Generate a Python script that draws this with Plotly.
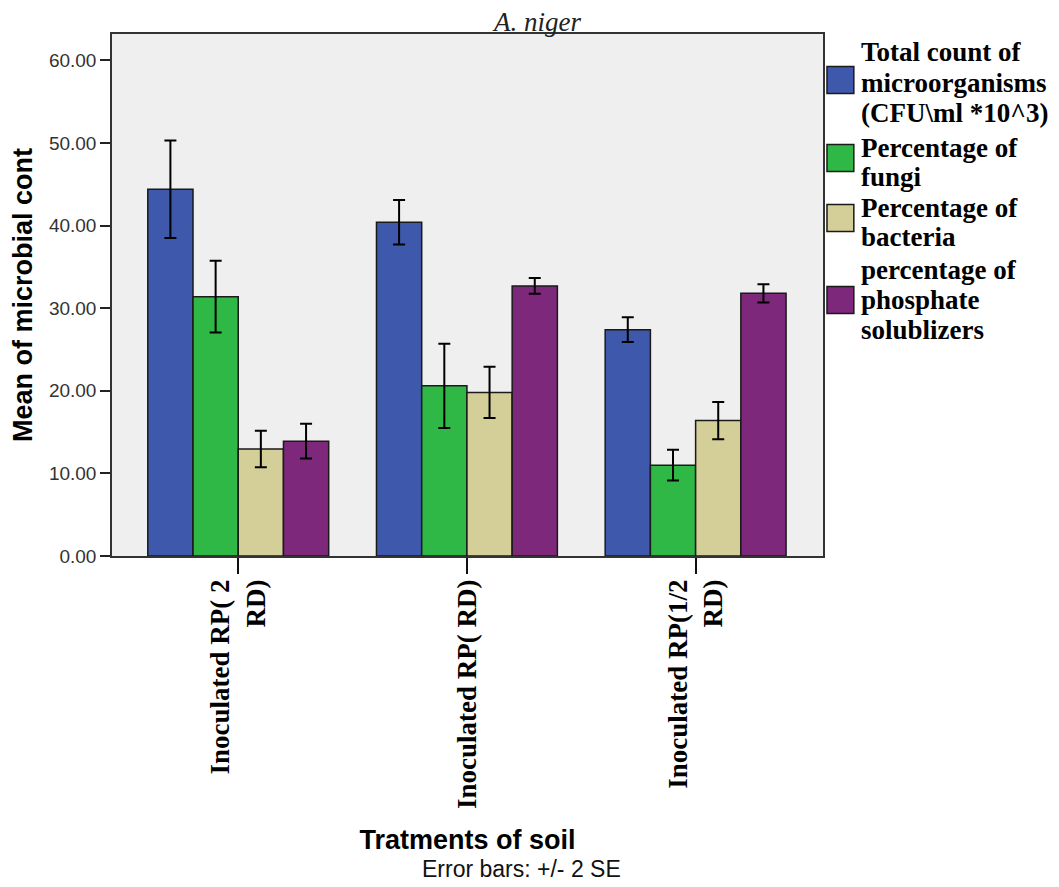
import plotly.graph_objects as go

# ---------------- data ----------------
CATEGORIES = ["Inoculated RP( 2<br>RD)", "Inoculated RP( RD)", "Inoculated RP(1/2<br>RD)"]
SERIES_NAMES = [
    "Total count of<br>microorganisms<br>(CFU\\ml *10^3)",
    "Percentage of<br>fungi",
    "Percentage of<br>bacteria",
    "percentage of<br>phosphate<br>solublizers",
]
TOTAL_COUNT = [44.4, 40.4, 27.4]
TOTAL_COUNT_ERR = [5.9, 2.7, 1.5]
FUNGI = [31.4, 20.6, 11.0]
FUNGI_ERR = [4.35, 5.1, 1.85]
BACTERIA = [12.96, 19.8, 16.4]
BACTERIA_ERR = [2.2, 3.1, 2.25]
PHOSPHATE = [13.9, 32.7, 31.8]
PHOSPHATE_ERR = [2.1, 0.95, 1.1]
Y_TICKS = [0, 10, 20, 30, 40, 50, 60]

COLORS = ["#3E58AC", "#2FB846", "#D4CF98", "#7E287C"]
VALUES = [TOTAL_COUNT, FUNGI, BACTERIA, PHOSPHATE]
ERRORS = [TOTAL_COUNT_ERR, FUNGI_ERR, BACTERIA_ERR, PHOSPHATE_ERR]

OFF = 8  # page body margin
PAGE_W, PAGE_H = 1059, 887
W, H = PAGE_W - OFF, PAGE_H - OFF
# plot area in page px
L, R, T, B = 108, 823, 34, 556


def px_x(px):
    return (px - L) / (R - L)


def px_y(py):
    return (B - py) / (B - T)


fig = go.Figure()
for name, vals, errs, col in zip(SERIES_NAMES, VALUES, ERRORS, COLORS):
    fig.add_trace(go.Bar(
        x=CATEGORIES, y=vals, name=name.replace("<br>", " "),
        marker=dict(color=col, line=dict(color="#1a1a1a", width=1.5)),
        error_y=dict(type="data", array=errs, visible=True,
                     color="black", thickness=2, width=6),
        showlegend=False,
    ))

# custom legend (large square swatches, as in the original)
line_centers = [[52, 83, 113], [148, 177], [208, 237], [270, 300, 330]]
swatch_centers = [80, 158, 218, 300]
shapes = []
annotations = []
for name, col, lines_y, sc in zip(SERIES_NAMES, COLORS, line_centers, swatch_centers):
    shapes.append(dict(type="rect", xref="paper", yref="paper",
                       x0=px_x(827), x1=px_x(854), y0=px_y(sc + 13.5), y1=px_y(sc - 13.5),
                       fillcolor=col, line=dict(color="#1a1a1a", width=1.5)))
    for txt, ly in zip(name.split("<br>"), lines_y):
        annotations.append(dict(text=txt, xref="paper", yref="paper",
                                x=px_x(859), y=px_y(ly), xanchor="left", yanchor="middle",
                                showarrow=False,
                                font=dict(family="Liberation Serif", size=27, color="black",
                                          weight="bold")))

annotations.append(dict(text="<i>A. niger</i>", xref="paper", yref="paper",
                        x=px_x(535), y=px_y(22), xanchor="center", yanchor="middle",
                        showarrow=False,
                        font=dict(family="Liberation Serif", size=27, color="#222")))
annotations.append(dict(text="Error bars: +/- 2 SE", xref="paper", yref="paper",
                        x=px_x(520), y=px_y(869), xanchor="center", yanchor="middle",
                        showarrow=False,
                        font=dict(family="Liberation Sans", size=23, color="#111")))

fig.update_layout(
    width=W, height=H, autosize=False,
    margin=dict(l=L - OFF, r=W - (R - OFF), t=T - OFF, b=H - (B - OFF), pad=0),
    paper_bgcolor="white", plot_bgcolor="#EFEFEF",
    barmode="group", bargap=0.209, bargroupgap=0,
    shapes=shapes, annotations=annotations,
    showlegend=False,
)
fig.update_xaxes(
    range=[-0.552, 2.557], showline=True, linecolor="#333", linewidth=1.5, mirror=True,
    ticks="outside", ticklen=16, tickwidth=2, tickcolor="#111",
    tickangle=-90, showgrid=False, ticklabelstandoff=-5,
    tickfont=dict(family="Liberation Serif", size=27, color="black", weight="bold"),
    title=dict(text="Tratments of soil", standoff=22,
               font=dict(family="Liberation Sans", size=27, color="black", weight="bold")),
)
fig.update_yaxes(
    range=[0, 63.2], tickvals=Y_TICKS, tickformat=".2f",
    showline=True, linecolor="#333", linewidth=1.5, mirror=True,
    ticks="outside", ticklen=10, tickwidth=2, tickcolor="#222",
    showgrid=False, zeroline=False,
    tickfont=dict(family="Liberation Sans", size=19, color="#333"),
    title=dict(text="Mean of microbial cont", standoff=10,
               font=dict(family="Liberation Sans", size=27, color="black", weight="bold")),
)

fig.write_html("out.html")
